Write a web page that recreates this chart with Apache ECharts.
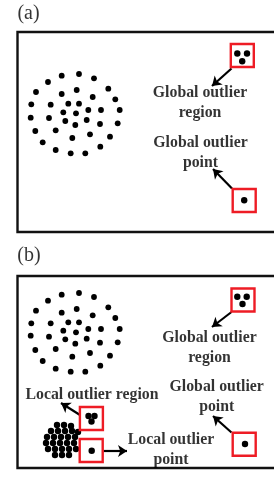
<!DOCTYPE html>
<html>
<head>
<meta charset="utf-8">
<script src="https://cdn.jsdelivr.net/npm/echarts@6/dist/echarts.min.js"></script>
<style>
  html, body { margin: 0; padding: 0; background: #fff; }
  #outlier_sketch { width: 274px; height: 481px; }
</style>
</head>
<body>
<div id="outlier_sketch"></div>
<script>
// canvas coordinates: x 0..274, y 0..481 (top down)
const panelFrames = [[17.5, 32, 300, 232], [17.5, 276, 300, 468]]   // x1,y1,x2,y2
const panelTags = [['(a)', 28.5, 13.5], ['(b)', 29, 256]]

// normal data cluster, panel (a)
const clusterA = [
  [61.7,75.7],[79,74],[94,78.3],[48,82],[36,92],[61.7,94],[76.7,90],[108.3,88.7],
  [92.7,97],[115.3,99.3],[31.3,104.3],[50.7,104.7],[68.3,103.7],[79,103.7],[119.7,110],
  [101,110],[88.3,110],[63.3,112.3],[76,113.3],[30.7,117.7],[49,118],[65.3,121],
  [86.7,120],[75.3,125],[100,124],[117.7,123.3],[35.3,131],[55.7,130.3],[90,134.3],
  [72.3,138],[110,136.7],[42.7,142.3],[100.3,146.7],[55.7,150],[70.7,153.3],[85.3,153.3]
]
// normal data cluster, panel (b)
const clusterB = [
  [61.7,294.7],[79,293],[94,297],[48,300.7],[36,310.7],[61.7,312.7],[76.7,309],[108.3,307.3],
  [92.7,315.3],[115.3,318],[31.3,323.3],[50.7,323.3],[68.3,322.3],[79,322.3],[119.7,329],
  [101,329],[88.3,329],[63.3,330.7],[76,332.3],[30.7,335.7],[49,336.7],[65.3,339.3],
  [86.7,338.7],[75.3,343.7],[100,342.7],[117.7,342.3],[35.3,350],[55.7,349],[90,353],
  [72.3,356.7],[110,355.7],[42.7,361],[100.3,365.7],[55.7,368.7],[70.7,371.7],[85.3,371.7]
]
// dense small cluster, panel (b)
const denseCluster = [
  [57,425],[64,425],[71,426],
  [51,431],[58,431],[65,431],[72,431],[78,432],
  [47,437],[54,437],[61,437],[68,437],[75,437],
  [46,443],[53,443],[60,443],[67,443],[74,443],
  [48,449],[55,449],[62,449],[69,449],[76,449],
  [55,455],[62,455],[69,455]
]
const outlierDots = [
  [237.3,53.5],[247,53.5],[242.2,61.3],[244.2,200.3],
  [237.3,296.7],[246.7,296.7],[242.5,304],[245,444],
  [88.5,416],[94.5,416],[91.5,421.5],[91.7,450.7]
]
const outlierBoxes = [
  [242.3,55.5],[244.2,200.5],[243,300],[244.2,444.3],[91.4,418.5],[91.2,450.5]
]
const arrows = [
  [[231.5,68.5],[212,86]],
  [[232,188.5],[213,169]],
  [[231.5,312],[212,327]],
  [[231.5,432.5],[213,416]],
  [[80,415],[61,403]],
  [[103.5,451],[127,451]]
]
const captions = [
  ['Global outlier\nregion', 200, 103],
  ['Global outlier\npoint', 200.5, 153],
  ['Global outlier\nregion', 209.5, 348],
  ['Global outlier\npoint', 216.7, 397],
  ['Local outlier region', 92, 395],
  ['Local outlier\npoint', 171, 450]
]

const serif = '"Liberation Serif", "DejaVu Serif", serif'
const option = {
  animation: false,
  grid: { left: 0, right: 0, top: 0, bottom: 0 },
  xAxis: { type: 'value', min: 0, max: 274, show: false },
  yAxis: { type: 'value', min: 0, max: 481, inverse: true, show: false },
  series: [
    {
      type: 'custom',
      clip: false,
      renderItem: (params, api) => {
        const p1 = api.coord([api.value(0), api.value(1)])
        const p2 = api.coord([api.value(2), api.value(3)])
        return {
          type: 'rect',
          shape: { x: p1[0], y: p1[1], width: p2[0] - p1[0], height: p2[1] - p1[1] },
          style: { fill: 'none', stroke: '#111', lineWidth: 2.4 }
        }
      },
      data: panelFrames,
      silent: true
    },
    {
      type: 'scatter',
      symbolSize: 5.8,
      itemStyle: { color: '#000', opacity: 1 },
      data: clusterA.concat(clusterB)
    },
    {
      type: 'scatter',
      symbolSize: 6.4,
      itemStyle: { color: '#000', opacity: 1 },
      data: denseCluster.concat(outlierDots)
    },
    {
      type: 'scatter',
      symbol: 'rect',
      symbolSize: 23,
      itemStyle: { color: 'rgba(0,0,0,0)', borderColor: '#ee1c25', borderWidth: 2.4, opacity: 1 },
      data: outlierBoxes
    },
    {
      type: 'lines',
      coordinateSystem: 'cartesian2d',
      symbol: ['none', 'arrow'],
      symbolSize: 9,
      lineStyle: { color: '#000', width: 2.2, opacity: 1 },
      data: arrows.map(a => ({ coords: a }))
    },
    {
      type: 'scatter',
      symbolSize: 0,
      data: captions.map(c => ({ value: [c[1], c[2]], name: c[0] })),
      label: {
        show: true, position: [0, 0], align: 'center', verticalAlign: 'middle',
        formatter: p => p.name,
        fontFamily: serif, fontWeight: 'bold', fontSize: 15.8, lineHeight: 19.5, color: '#000'
      }
    },
    {
      type: 'scatter',
      symbolSize: 0,
      data: panelTags.map(t => ({ value: [t[1], t[2]], name: t[0] })),
      label: {
        show: true, position: [0, 0], align: 'center', verticalAlign: 'middle',
        formatter: p => p.name,
        fontFamily: serif, fontSize: 20, color: '#000'
      }
    }
  ]
}
echarts.init(document.getElementById('outlier_sketch')).setOption(option)
</script>
</body>
</html>
